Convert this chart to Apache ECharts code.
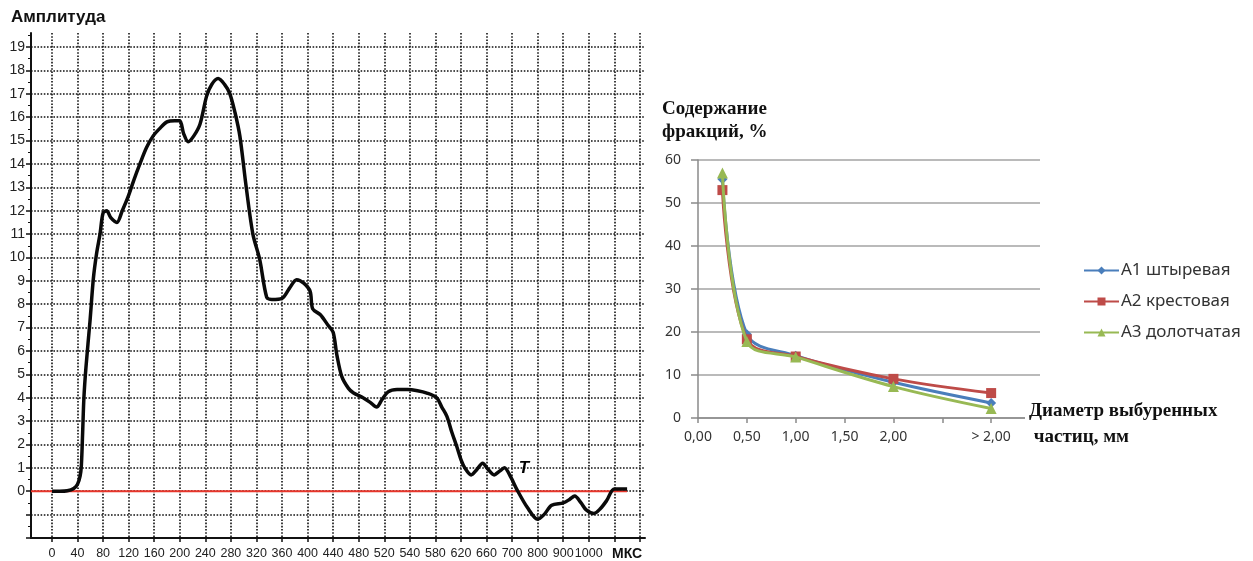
<!DOCTYPE html>
<html><head><meta charset="utf-8">
<script src="https://cdn.jsdelivr.net/npm/echarts@6/dist/echarts.min.js"></script>
<style>html,body{margin:0;padding:0;background:#fff}#c{width:1253px;height:561px}</style>
</head><body><div id="c"></div>
<script>
// ---------- Left chart: amplitude vs time ----------
const timeLabels = ['0','40','80','120','160','200','240','280','320','360','400','440','480','520','540','580','620','660','700','800','900','1000'];
const unitLabel = 'МКС';
const unitLabelPos = 22.5;
const amplitudeTicks = [-2,-1,0,1,2,3,4,5,6,7,8,9,10,11,12,13,14,15,16,17,18,19];
const amplitudeLabels = [0,1,2,3,4,5,6,7,8,9,10,11,12,13,14,15,16,17,18,19];
// [position along time grid (index of label), amplitude]
const amplitudeCurve = [
 [0,0],[0.3,0],[0.6,0.02],[0.85,0.12],[1.0,0.3],[1.1,0.65],[1.15,1.1],[1.2,2.5],[1.25,4.0],[1.33,5.3],[1.49,7.3],
 [1.62,9.1],[1.75,10.2],[1.88,11.0],[2.0,11.9],[2.14,12.0],[2.3,11.7],[2.54,11.5],[2.75,12.0],[2.98,12.6],
 [3.2,13.3],[3.44,14.0],[3.7,14.7],[3.96,15.2],[4.2,15.5],[4.5,15.8],[4.8,15.85],[5.0,15.85],[5.15,15.3],
 [5.33,14.95],[5.55,15.2],[5.79,15.7],[6.05,16.9],[6.25,17.4],[6.5,17.65],[6.75,17.4],[6.96,17.0],[7.16,16.2],
 [7.35,15.2],[7.6,13.0],[7.86,11.0],[8.13,9.9],[8.4,8.3],[8.6,8.2],[9.0,8.25],[9.3,8.7],[9.57,9.05],[9.85,8.9],
 [10.1,8.55],[10.2,7.8],[10.5,7.55],[10.8,7.1],[11.0,6.8],[11.15,5.8],[11.34,4.9],[11.6,4.4],[11.8,4.2],
 [12.17,4.0],[12.45,3.8],[12.7,3.6],[12.9,3.9],[13.15,4.25],[13.5,4.35],[13.9,4.35],[14.3,4.3],[14.67,4.2],
 [15.05,4.0],[15.25,3.6],[15.45,3.2],[15.65,2.5],[15.84,1.9],[16.0,1.35],[16.15,1.0],[16.4,0.7],[16.6,0.9],
 [16.85,1.2],[17.05,0.95],[17.3,0.7],[17.5,0.85],[17.7,1.0],[17.95,0.6],[18.2,0.05],[18.6,-0.7],[19.0,-1.2],
 [19.25,-1.0],[19.55,-0.6],[20.0,-0.5],[20.25,-0.35],[20.45,-0.2],[20.7,-0.5],[20.9,-0.8],[21.2,-0.95],
 [21.45,-0.75],[21.7,-0.4],[22.0,0.1],[22.5,0.1]
];
const zeroLine = [[-0.82,0],[22.5,0]];
const markT = [[18.46,0.98]];

// ---------- Right chart: fraction content vs particle diameter ----------
const diameters = [0.25, 0.5, 1.0, 2.0, 3.0];
const diameterTickText = {'0':'0,00','0.5':'0,50','1':'1,00','1.5':'1,50','2':'2,00','3':'> 2,00'};
const seriesNames = ['A1 штыревая','A2 крестовая','A3 долотчатая'];
const valuesA1 = [55.5, 19.5, 14.5, 8.3, 3.5];
const valuesA2 = [53, 18.3, 14.3, 9.1, 5.8];
const valuesA3 = [57, 17.8, 14.2, 7.3, 2.2];

const pair = (xs, ys) => xs.map((x, i) => [x, ys[i]]);
const gridIdx = timeLabels.map((_, i) => i).concat([22, 23]);
const labelPos = timeLabels.map((_, i) => i).concat([unitLabelPos]);

const dotted = {color:'#111', width:1.6, type:[1.6,1.6]};
const sansL = 'Liberation Sans, Arial, sans-serif';
const sansR = 'Noto Sans, Open Sans, sans-serif';
const serif = 'Liberation Serif, Times New Roman, serif';

const chart = echarts.init(document.getElementById('c'), null, {renderer:'canvas'});
chart.setOption({
  backgroundColor:'#fff',
  animation:false,
  title:[
    {text:'Амплитуда', left:11, top:9, padding:0, textStyle:{fontFamily:sansL, fontWeight:'bold', fontSize:17, color:'#111'}},
    {text:'Содержание\nфракций, %', left:662, top:98, padding:0, textStyle:{fontFamily:serif, fontWeight:'bold', fontSize:19, lineHeight:23, color:'#111'}},
    {text:'Диаметр выбуренных\n частиц, мм', left:1025, top:398, padding:[0,4,2,4], backgroundColor:'#fff', z:10,
     textStyle:{fontFamily:serif, fontWeight:'bold', fontSize:19, lineHeight:26, color:'#111'}}
  ],
  legend:{
    orient:'vertical', left:1083, top:262, padding:0, itemWidth:35, itemHeight:10, itemGap:14,
    data:seriesNames, textStyle:{fontFamily:sansR, fontSize:17, color:'#333', padding:[0,0,0,-3]}
  },
  grid:[
    {left:31, top:33, width:614, height:505},
    {left:698, top:160, width:342, height:258}
  ],
  xAxis:[
    {type:'value', gridIndex:0, min:-0.82, max:23.2,
     axisLine:{show:true, onZero:false, lineStyle:{color:'#111', width:2}},
     axisTick:{show:true, customValues:gridIdx, length:4, lineStyle:{color:'#111', width:1.5}},
     axisLabel:{customValues:labelPos, margin:9, fontFamily:sansL, fontSize:12.5, color:'#222',
       formatter:(v)=> v===unitLabelPos ? '{b|'+unitLabel+'}' : timeLabels[Math.round(v)],
       rich:{b:{fontWeight:'bold', fontSize:14, fontFamily:sansL, color:'#111'}}},
     splitLine:{show:true, lineStyle:dotted}},
    {type:'value', gridIndex:1, min:0, max:3.5, interval:0.5,
     axisLine:{show:true, onZero:false, lineStyle:{color:'#8a8a8a', width:1.5}},
     axisTick:{show:true, length:5, lineStyle:{color:'#8a8a8a', width:1.5}},
     axisLabel:{margin:12, fontFamily:sansR, fontSize:14, color:'#333',
       formatter:(v)=> diameterTickText[String(v)] || ''},
     splitLine:{show:false}}
  ],
  yAxis:[
    {type:'value', gridIndex:0, min:-2, max:19.6, interval:1,
     axisLine:{show:true, onZero:false, lineStyle:{color:'#111', width:2}},
     axisTick:{show:true, customValues:amplitudeTicks, length:5, lineStyle:{color:'#111', width:1.5}},
     minorTick:{show:true, splitNumber:2, length:3, lineStyle:{color:'#111', width:1}},
     axisLabel:{customValues:amplitudeLabels, margin:6, fontFamily:sansL, fontSize:14, color:'#222'},
     splitLine:{show:true, lineStyle:dotted}},
    {type:'value', gridIndex:1, min:0, max:60, interval:10,
     axisLine:{show:true, lineStyle:{color:'#8a8a8a', width:1.5}},
     axisTick:{show:true, length:7, lineStyle:{color:'#8a8a8a', width:1.5}},
     axisLabel:{margin:17, fontFamily:sansR, fontSize:14, color:'#333'},
     splitLine:{show:true, lineStyle:{color:'#a3a3a3', width:1.5}}}
  ],
  series:[
    {type:'line', xAxisIndex:0, yAxisIndex:0, data:zeroLine, showSymbol:false, z:3,
     lineStyle:{color:'#e8352a', width:2}, silent:true},
    {type:'line', xAxisIndex:0, yAxisIndex:0, data:amplitudeCurve, smooth:0.3, showSymbol:false, z:4,
     lineStyle:{color:'#0a0a0a', width:3.5}},
    {type:'scatter', xAxisIndex:0, yAxisIndex:0, data:markT, symbolSize:1, itemStyle:{color:'#fff', opacity:0}, z:5,
     label:{show:true, position:'inside', formatter:'T', fontFamily:sansL, fontWeight:'bold', fontStyle:'italic',
       fontSize:17, color:'#000', textBorderWidth:0, opacity:1}},
    {name:seriesNames[0], type:'line', xAxisIndex:1, yAxisIndex:1, data:pair(diameters, valuesA1), smooth:0.35,
     symbol:'diamond', symbolSize:10, color:'#4a7ebb', lineStyle:{width:3}, z:2},
    {name:seriesNames[1], type:'line', xAxisIndex:1, yAxisIndex:1, data:pair(diameters, valuesA2), smooth:0.35,
     symbol:'rect', symbolSize:10, color:'#be4b48', lineStyle:{width:3}, z:3},
    {name:seriesNames[2], type:'line', xAxisIndex:1, yAxisIndex:1, data:pair(diameters, valuesA3), smooth:0.35,
     symbol:'triangle', symbolSize:11, color:'#98b954', lineStyle:{width:3}, z:4}
  ]
});
</script></body></html>
